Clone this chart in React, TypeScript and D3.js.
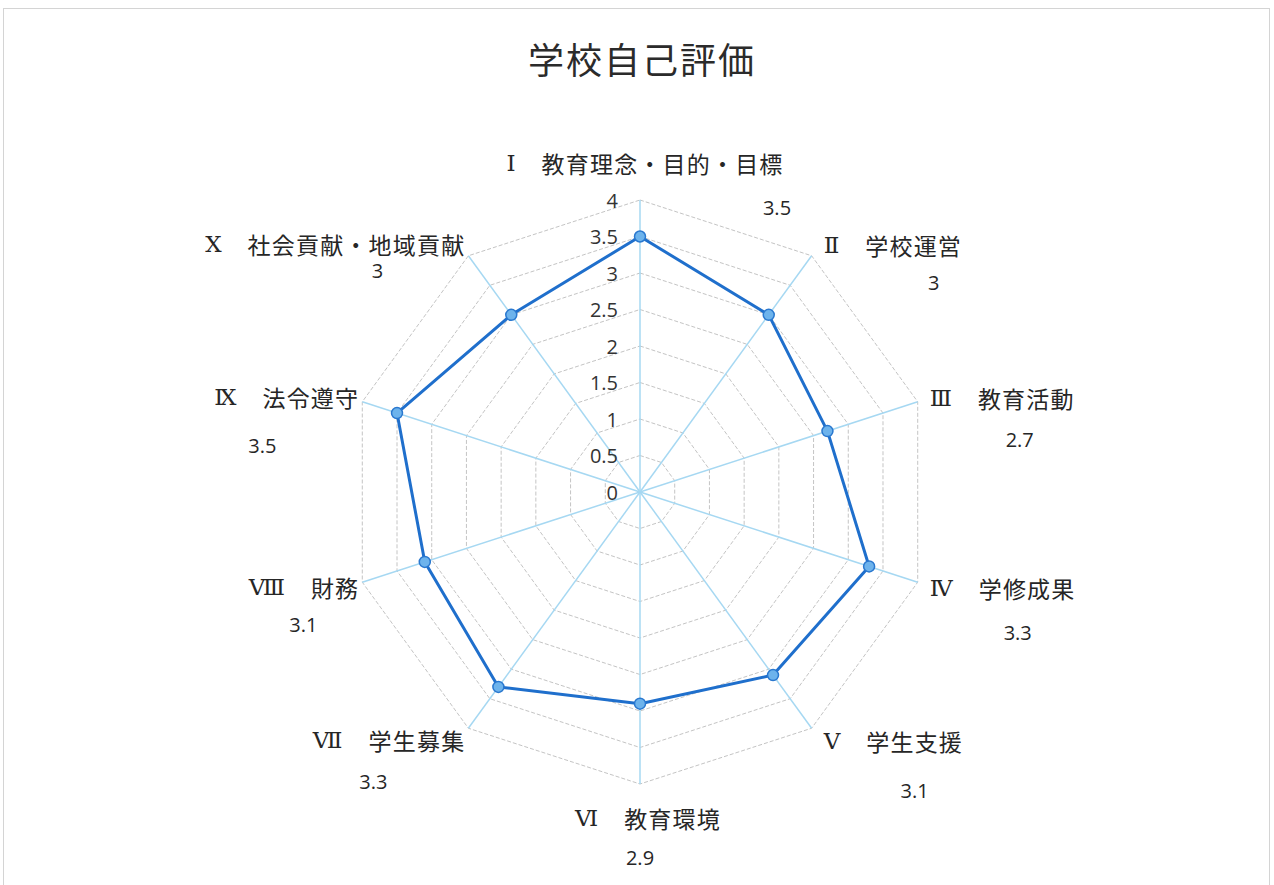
import * as d3 from "d3";
import { useEffect, useRef } from "react";

const numerals = ["Ⅰ", "Ⅱ", "Ⅲ", "Ⅳ", "Ⅴ", "Ⅵ", "Ⅶ", "Ⅷ", "Ⅸ", "Ⅹ"];
const categories = [
  "教育理念・目的・目標",
  "学校運営",
  "教育活動",
  "学修成果",
  "学生支援",
  "教育環境",
  "学生募集",
  "財務",
  "法令遵守",
  "社会貢献・地域貢献",
];
const values = [3.5, 3, 2.7, 3.3, 3.1, 2.9, 3.3, 3.1, 3.5, 3];
const ticks = [0, 0.5, 1, 1.5, 2, 2.5, 3, 3.5, 4];
const title = "学校自己評価";

// where the (hand-moved) value labels sit, relative to each axis tip
const valueLabelOffset: [number, number][] = [
  [137, 7], [122, 27], [102, 38], [100, 50], [103, 62],
  [0, 73], [-95, 53], [-59, 42], [-100, 44], [-91, 15],
];

export default function App() {
  const ref = useRef<SVGSVGElement | null>(null);

  useEffect(() => {
    const el = ref.current;
    if (!el) return;
    const svg = d3.select(el);
    svg.selectAll("*").remove();

    const W = 1274;
    const H = 885;
    const cx = 640;
    const cy = 492;
    const R = 292;
    const n = categories.length;

    const r = d3.scaleLinear().domain([0, 4]).range([0, R]);
    const ang = d3
      .scaleLinear()
      .domain([0, n])
      .range([0, 2 * Math.PI]);
    const pt = (i: number, v: number): [number, number] => [
      cx + r(v) * Math.sin(ang(i)),
      cy - r(v) * Math.cos(ang(i)),
    ];

    svg.attr("viewBox", `0 0 ${W} ${H}`).attr("width", W).attr("height", H);

    svg
      .append("rect")
      .attr("width", W)
      .attr("height", H)
      .attr("fill", "#ffffff");

    svg
      .append("rect")
      .attr("x", 3.5)
      .attr("y", 8.5)
      .attr("width", 1266)
      .attr("height", 890)
      .attr("fill", "none")
      .attr("stroke", "#d4d4d4")
      .attr("stroke-width", 1);

    svg
      .append("text")
      .attr("x", cx + 2)
      .attr("y", 58)
      .attr("text-anchor", "middle")
      .attr("dominant-baseline", "central")
      .attr("font-family", "'Noto Sans CJK JP', sans-serif")
      .attr("font-size", 36)
      .attr("letter-spacing", 2)
      .attr("fill", "#2b2b2b")
      .text(title);

    const g = svg.append("g");

    // rings
    const idx = d3.range(n);
    g.selectAll("path.ring")
      .data(ticks.filter((t) => t > 0))
      .join("path")
      .attr("class", "ring")
      .attr("d", (t) => d3.line()(idx.map((i) => pt(i, t))) + "Z")
      .attr("fill", "none")
      .attr("stroke", "#c4c4c4")
      .attr("stroke-width", 1)
      .attr("stroke-dasharray", "4,2");

    // spokes
    g.selectAll("line.spoke")
      .data(idx)
      .join("line")
      .attr("class", "spoke")
      .attr("x1", cx)
      .attr("y1", cy)
      .attr("x2", (i) => pt(i, 4)[0])
      .attr("y2", (i) => pt(i, 4)[1])
      .attr("stroke", "#a6d8f2")
      .attr("stroke-width", 1.5);

    // tick labels
    g.selectAll("text.tick")
      .data(ticks)
      .join("text")
      .attr("class", "tick")
      .attr("x", cx - 22)
      .attr("y", (t) => cy - r(t))
      .attr("text-anchor", "end")
      .attr("dominant-baseline", "central")
      .attr("font-family", "'Open Sans', 'Liberation Sans', sans-serif")
      .attr("font-size", 20)
      .attr("fill", "#333333")
      .text((t) => String(t));

    // data line
    g.append("path")
      .attr("d", d3.line()(values.map((v, i) => pt(i, v))) + "Z")
      .attr("fill", "none")
      .attr("stroke", "#1f6fcc")
      .attr("stroke-width", 3)
      .attr("stroke-linejoin", "round");

    g.selectAll("circle.pt")
      .data(values)
      .join("circle")
      .attr("class", "pt")
      .attr("cx", (v, i) => pt(i, v)[0])
      .attr("cy", (v, i) => pt(i, v)[1])
      .attr("r", 5.5)
      .attr("fill", "#6db3ec")
      .attr("stroke", "#2a78cf")
      .attr("stroke-width", 1.5);

    // category labels
    g.selectAll("text.cat")
      .data(idx)
      .join("text")
      .attr("class", "cat")
      .attr("font-size", 23)
      .attr("fill", "#262626")
      .attr("dominant-baseline", "central")
      .each(function (i) {
        const [tx, ty] = pt(i, 4);
        const s = Math.sin(ang(i));
        const c = Math.cos(ang(i));
        let x = tx;
        let y = ty;
        let anchor = "middle";
        if (Math.abs(s) < 0.01) {
          y = c > 0 ? ty - 37 : ty + 34;
          x = tx + (c > 0 ? 5 : 8);
        } else if (s > 0) {
          anchor = "start";
          x = tx + 12;
          y = ty - 14 * c + 1;
        } else {
          anchor = "end";
          x = tx - 3;
          y = ty - 14 * c;
        }
        const t = d3
          .select(this)
          .attr("x", x)
          .attr("y", y)
          .attr("text-anchor", anchor);
        t.append("tspan")
          .attr("font-family", "'Liberation Serif', 'DejaVu Serif', serif")
          .attr("font-size", 23)
          .text(numerals[i]);
        t.append("tspan")
          .attr("font-family", "'Noto Sans CJK JP', sans-serif")
          .attr("letter-spacing", 1.2)
          .attr("dx", 26)
          .text(categories[i]);
      });

    // value labels
    g.selectAll("text.val")
      .data(values)
      .join("text")
      .attr("class", "val")
      .attr("x", (v, i) => pt(i, 4)[0] + valueLabelOffset[i][0])
      .attr("y", (v, i) => pt(i, 4)[1] + valueLabelOffset[i][1])
      .attr("text-anchor", "middle")
      .attr("dominant-baseline", "central")
      .attr("font-family", "'Open Sans', 'Liberation Sans', sans-serif")
      .attr("font-size", 20)
      .attr("fill", "#262626")
      .text((v) => String(v));
  }, []);

  return (
    <svg
      ref={ref}
      style={{ position: "absolute", left: 0, top: 0, display: "block" }}
    />
  );
}
